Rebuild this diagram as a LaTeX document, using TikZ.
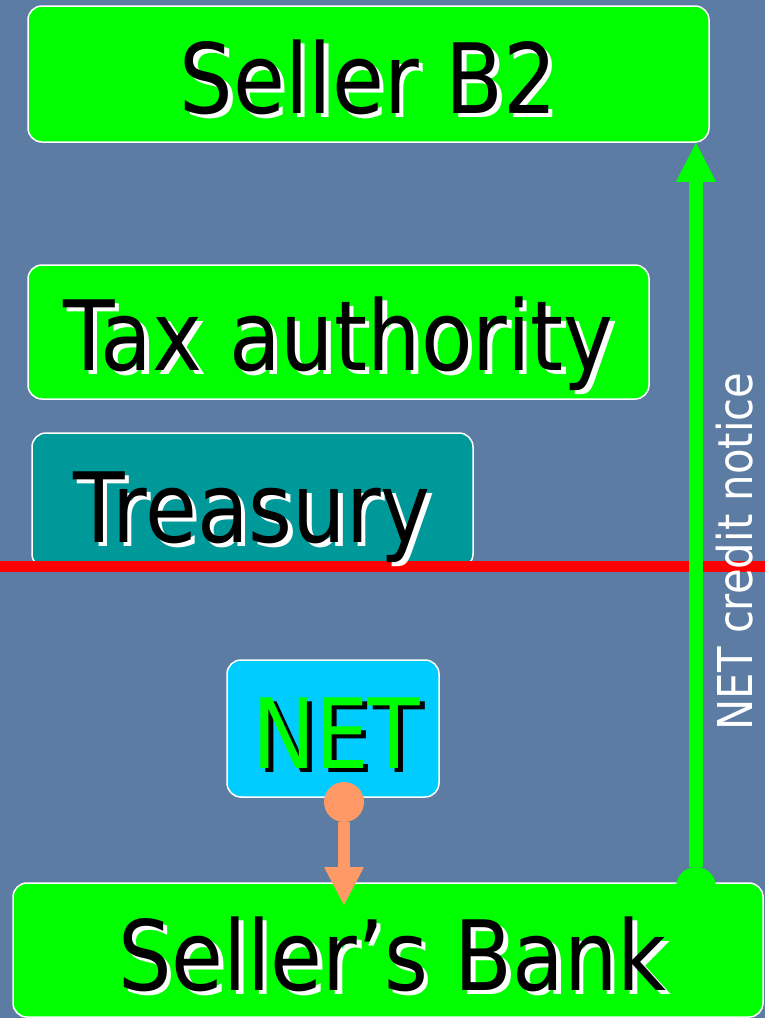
\documentclass[tikz,border=0pt]{standalone}
\usepackage{fontspec}
\newfontfamily\dfont[FakeStretch=0.87]{DejaVu Sans}
\usetikzlibrary{arrows.meta}
\definecolor{bgblue}{RGB}{92,124,164}
\definecolor{boxgreen}{RGB}{0,255,0}
\definecolor{tealbox}{RGB}{0,153,153}
\definecolor{cyanbox}{RGB}{0,204,255}
\definecolor{orangearr}{RGB}{255,153,102}
\definecolor{redline}{RGB}{255,0,0}
\newcommand\shadowtext[2]{\makebox[0pt][l]{\hspace{4.5pt}\raisebox{-4.5pt}{\textcolor{#1}{#2}}}#2}
\begin{document}
\begin{tikzpicture}[x=1pt,y=-1pt,
  box/.style={draw=white, line width=1.5pt, rounded corners=14pt, inner sep=0pt},
  bigtext/.style={inner sep=0pt, anchor=base, text=black, font=\dfont\fontsize{97}{97}\selectfont},
  sidetext/.style={inner sep=0pt, anchor=base, text=white, rotate=90, font=\dfont\fontsize{48}{48}\selectfont},
  greenarrow/.style={draw=boxgreen, line width=14pt,
    {Circle[length=40pt,width=40pt,line width=0pt]}-{Triangle[length=39pt,width=40pt,line width=0pt]}},
  orangearrow/.style={draw=orangearr, line width=12pt,
    {Circle[length=40pt,width=40pt,line width=0pt]}-{Triangle[length=38pt,width=40pt,line width=0pt]}}
]
\useasboundingbox (0,0) rectangle (765,1018);
\fill[bgblue] (0,0) rectangle (765,1018);

% boxes
\node[box, fill=boxgreen, minimum width=681pt, minimum height=136pt] (sb2) at (368.5,74) {};
\node[box, fill=boxgreen, minimum width=621pt, minimum height=134pt] (tax) at (338.5,332) {};
\node[box, fill=tealbox, minimum width=441pt, minimum height=135pt] (treas) at (252.5,500.5) {};
\node[box, fill=cyanbox, minimum width=212pt, minimum height=137pt] (net) at (333,728.5) {};
\node[box, fill=boxgreen, minimum width=750pt, minimum height=134pt] (bank) at (388,950) {};

% red line
\coordinate (redL) at (0,566.5);
\coordinate (redR) at (765,566.5);
\draw[redline, line width=11pt] (redL) -- (redR);

% texts
\node[bigtext] (tsb2) at (368.5,113) {\shadowtext{white}{Seller B2}};
\node[bigtext] (ttax) at (338.5,370) {\shadowtext{white}{Tax authority}};
\node[bigtext] (ttreas) at (252,542) {\shadowtext{white}{Treasury}};
\node[bigtext, text=boxgreen] (tnet) at (336.5,768) {\shadowtext{black}{NET}};
\node[bigtext] (tbank) at (392.5,990) {\shadowtext{white}{Seller’s Bank}};
\node[sidetext] (tnotice) at (752,551.5) {NET credit notice};

% connectors
\coordinate (gstart) at (696,907);
\draw[greenarrow] (gstart) -- (gstart |- sb2.south);
\coordinate (ostart) at (344,782);
\coordinate (oend) at (344,905);
\draw[orangearrow] (ostart) -- (oend);
\end{tikzpicture}
\end{document}
